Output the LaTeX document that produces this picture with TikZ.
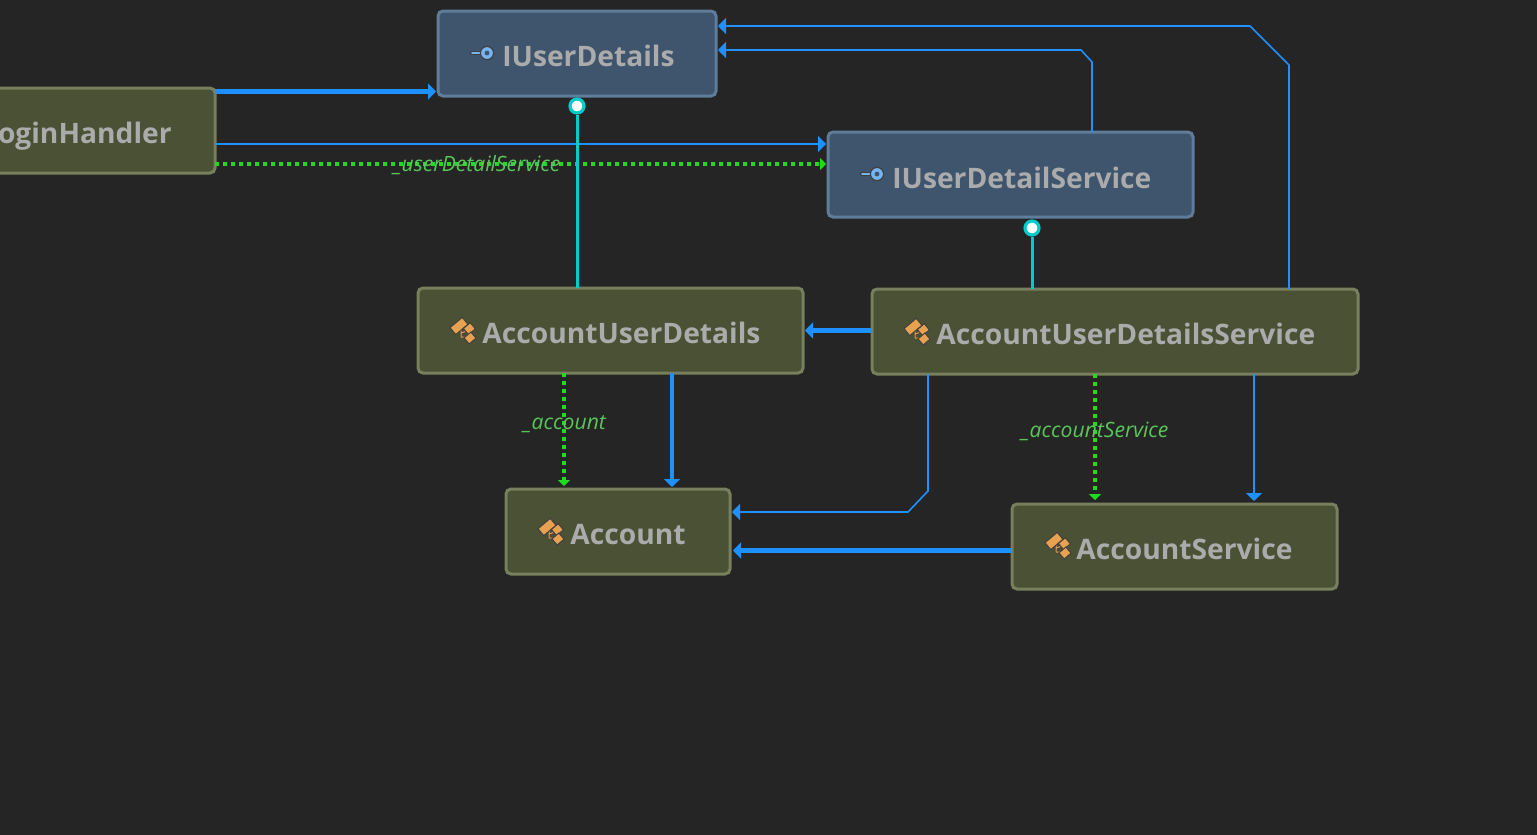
\documentclass[tikz,border=0pt]{standalone}
\usepackage{fontspec}
\setmainfont{Open Sans}
\newfontfamily\boxfont{Open Sans}
\usetikzlibrary{arrows.meta,calc}
\definecolor{bgc}{HTML}{252525}
\definecolor{clsfill}{HTML}{4A5134}
\definecolor{clsline}{HTML}{787F5C}
\definecolor{ifcfill}{HTML}{3E556D}
\definecolor{ifcline}{HTML}{5F7D9A}
\definecolor{txt}{HTML}{ABABAB}
\definecolor{blu}{HTML}{1E90FF}
\definecolor{grn}{HTML}{1FDC1F}
\definecolor{lblgrn}{HTML}{5AC65A}
\definecolor{cya}{HTML}{00CCCC}
\definecolor{org}{HTML}{E8A24F}
\definecolor{keyb}{HTML}{75B4F0}
\tikzset{
 x=0.5pt,y=-0.5pt,
 boxbase/.style={draw,line width=1.5pt,rounded corners=2.5pt,inner sep=0pt,outer sep=0pt,anchor=north west},
 clsbox/.style={boxbase,fill=clsfill,draw=clsline},
 ifcbox/.style={boxbase,fill=ifcfill,draw=ifcline},
 name text/.style={font=\boxfont\bfseries\fontsize{14.1}{16}\selectfont,text=txt,anchor=base west,inner sep=0pt},
 edge text/.style={font=\itshape\fontsize{10.55}{12}\selectfont,text=lblgrn,inner sep=0pt,anchor=base west},
 thin link/.style={draw=blu,line width=0.8pt,-{Triangle[length=4pt,width=8pt,fill=blu]}},
 thick link/.style={draw=blu,line width=2.4pt,-{Triangle[length=4pt,width=8pt,fill=blu]}},
 ref link/.style={draw=grn,line width=1.8pt,dash pattern=on 1.9pt off 2.1pt,-{Triangle[length=3pt,width=6pt,fill=grn]}},
 impl link/.style={draw=cya,line width=1.5pt},
 lollipop/.style={circle,draw=cya,line width=1.6pt,fill=white,minimum size=7pt,inner sep=0pt},
 icon part/.style={fill=org,draw=black!75,line width=0.5pt},
 pics/keyicon/.style={code={
   \draw[black!75,line width=2.2pt,line cap=round] (-10,0)--(0,0);
   \draw[keyb,line width=0.9pt,line cap=round] (-10,0)--(0,0);
   \draw[fill=keyb,draw=black!75,line width=0.6pt] (5,0) circle (3.3pt);
   \fill[ifcfill] (5,0) circle (1.2pt);
 }},
 pics/classicon/.style={code={
   \draw[black!75,line width=1.2pt] (-1,-2)--(-1,6)--(6,6) (-1,2)--(8,-1);
   \draw[org,line width=0.5pt] (-1,-2)--(-1,6)--(6,6) (-1,2)--(8,-1);
   \draw[icon part,rotate around={40:(-3,-5)}] (-11,-9.5) rectangle (5,-0.5);
   \draw[icon part,rotate around={40:(7,-2)}] (3,-6) rectangle (12,2);
   \draw[icon part,rotate around={40:(8,7)}] (3.5,3) rectangle (12.5,11);
 }},
}
\begin{document}
\begin{tikzpicture}
\useasboundingbox[fill=bgc] (0,0) rectangle (1537,835);
\clip (0,0) rectangle (1537,835);
% boxes
\node[clsbox,minimum width=125pt,minimum height=42.5pt] (lh) at (-35,88) {};
\node[ifcbox,minimum width=139pt,minimum height=42.5pt] (ud) at (438,11) {};
\node[ifcbox,minimum width=182.5pt,minimum height=42.5pt] (uds) at (828,132) {};
\node[clsbox,minimum width=192.5pt,minimum height=42.5pt] (aud) at (418,288) {};
\node[clsbox,minimum width=243pt,minimum height=42.5pt] (auds) at (872,289) {};
\node[clsbox,minimum width=112pt,minimum height=42.5pt] (acc) at (506,489) {};
\node[clsbox,minimum width=162.5pt,minimum height=42.5pt] (as) at (1012,504) {};
% names
\node[name text,anchor=base east] (lht) at (172,143) {oginHandler};
\node[name text] (udt) at (502,66) {IUserDetails};
\node[name text] (udst) at (892,188) {IUserDetailService};
\node[name text] (audt) at (482,343) {AccountUserDetails};
\node[name text] (audst) at (936,344) {AccountUserDetailsService};
\node[name text] (acct) at (570,544) {Account};
\node[name text] (ast) at (1076,559) {AccountService};
% icons
\pic at (482,53) {keyicon};
\pic at (872,174) {keyicon};
\pic at (462,331) {classicon};
\pic at (916,332) {classicon};
\pic at (550,532) {classicon};
\pic at (1057,546) {classicon};
% lollipops
\node[lollipop] (p1) at (577,106) {};
\node[lollipop] (p2) at (1032,228) {};
% connectors
\draw[thick link] (lh.east |- 0,91.5) -- ($(ud.west |- 0,91.5)+(-2,0)$);
\draw[thin link] (lh.east |- 0,144) -- ($(uds.west |- 0,144)+(-2,0)$);
\draw[ref link] (lh.east |- 0,164) -- ($(uds.west |- 0,164)+(-2,0)$);
\draw[impl link] (aud.north -| p1) -- (p1);
\draw[impl link] (auds.north -| p2) -- (p2);
\draw[thin link] (uds.north -| 1092,0) -- (1092,62) -- (1081,50) -- ($(ud.east |- 0,50)+(2,0)$);
\draw[thin link] (auds.north -| 1289,0) -- (1289,65) -- (1250,26) -- ($(ud.east |- 0,26)+(2,0)$);
\draw[thick link] (auds.west |- 0,330.5) -- ($(aud.east |- 0,330.5)+(2,0)$);
\draw[ref link] (aud.south -| 564,0) -- ($(acc.north -| 564,0)+(0,-3)$);
\draw[thick link] (aud.south -| 672,0) -- ($(acc.north -| 672,0)+(0,-2)$);
\draw[thin link] (auds.south -| 928,0) -- (928,491) -- (908,512) -- ($(acc.east |- 0,512)+(2,0)$);
\draw[ref link] (auds.south -| 1095,0) -- ($(as.north -| 1095,0)+(0,-4)$);
\draw[thin link] (auds.south -| 1254,0) -- ($(as.north -| 1254,0)+(0,-3)$);
\draw[thick link] (as.west |- 0,550.5) -- ($(acc.east |- 0,550.5)+(3,0)$);
% edge labels
\node[edge text] (l1) at (393,171) {\_userDetailService};
\node[edge text] (l2) at (523,429) {\_account};
\node[edge text] (l3) at (1021,437) {\_accountService};
\end{tikzpicture}
\end{document}
